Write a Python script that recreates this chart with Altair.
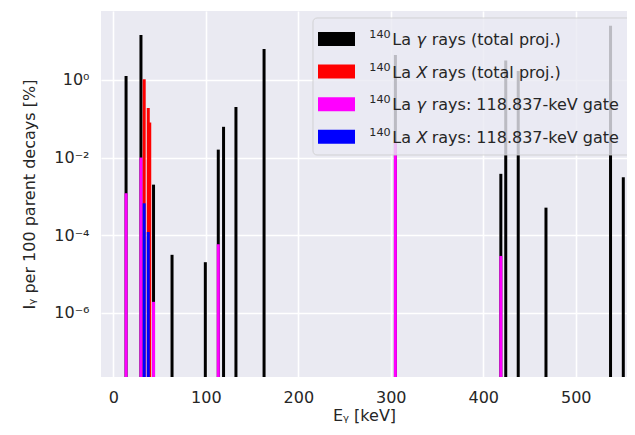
import altair as alt
import pandas as pd

# ---- data ----
gamma_E = [13.8, 29.9, 43.5, 63.5, 99.5, 113.5, 119.2, 132.6, 163.0, 305.0,
           419.0, 424.3, 437.8, 467.8, 537.6, 551.4]
gamma_I = [1.27, 14.5, 2.0e-3, 3.1e-5, 2.0e-5, 0.016, 0.062, 0.20, 6.3, 4.4,
           3.8e-3, 3.2, 1.7, 5.1e-4, 25.0, 3.1e-3]

xray_E = [33.4, 37.8, 39.4]
xray_I = [1.04, 0.19, 0.08]

gate_gamma_E = [13.8, 29.9, 43.5, 113.5, 305.0, 419.0]
gate_gamma_I = [1.2e-3, 1.0e-2, 1.9e-6, 5.8e-5, 0.025, 2.9e-5]

gate_xray_E = [33.4, 37.8]
gate_xray_I = [6.6e-4, 1.2e-4]

series_names = ["gamma_total", "xray_total", "gamma_gate", "xray_gate"]
series_colors = ["#000000", "#ff0000", "#ff00ff", "#0000ff"]
legend_symbol = ["γ", "X", "γ", "X"]
legend_rest = ["rays (total proj.)", "rays (total proj.)",
               "rays: 118.837-keV gate", "rays: 118.837-keV gate"]
x_ticks = [0, 100, 200, 300, 400, 500]
y_ticks = [1e-6, 1e-4, 1e-2, 1]

X_DOMAIN = [-13.3, 555.4]
Y_DOMAIN = [2.19e-8, 60.1]

frames = []
for name, E, I in zip(series_names,
                      [gamma_E, xray_E, gate_gamma_E, gate_xray_E],
                      [gamma_I, xray_I, gate_gamma_I, gate_xray_I]):
    frames.append(pd.DataFrame({"E": E, "I": I, "series": name}))
df = pd.concat(frames, ignore_index=True)

TXT = "#262626"
FONT = "DejaVu Sans"

bars = alt.Chart(df).mark_rule(strokeWidth=3, clip=True).encode(
    x=alt.X("E:Q",
            scale=alt.Scale(domain=X_DOMAIN, nice=False, zero=False),
            axis=alt.Axis(values=x_ticks, title="Eᵧ [keV]", labelPadding=12,
                          titlePadding=2, format="d")),
    y=alt.Y("I:Q",
            scale=alt.Scale(type="log", domain=Y_DOMAIN, nice=False),
            axis=alt.Axis(values=y_ticks, title="Iᵧ per 100 parent decays [%]",
                          labelPadding=12, titlePadding=16,
                          labelExpr="datum.value >= 0.5 ? '10⁰' : datum.value >= 0.005 ? '10⁻²' : datum.value >= 0.00005 ? '10⁻⁴' : '10⁻⁶'")),
    y2=alt.datum(Y_DOMAIN[0]),
    color=alt.Color("series:N",
                    scale=alt.Scale(domain=series_names, range=series_colors),
                    legend=None),
)

one = pd.DataFrame({"k": [0]})
layers = [bars]

# legend frame
layers.append(alt.Chart(one).mark_rect(
    fill="#EAEAF2", fillOpacity=0.8, stroke="#CCCCCC", strokeOpacity=0.8,
    strokeWidth=1, cornerRadius=4, clip=True).encode(
    x=alt.value(212), x2=alt.value(800), y=alt.value(7), y2=alt.value(144)))

ROW = 32.6
for i in range(4):
    base = 34 + ROW * i
    layers.append(alt.Chart(one).mark_rect(fill=series_colors[i], clip=True).encode(
        x=alt.value(217), x2=alt.value(254),
        y=alt.value(base - 13), y2=alt.value(base + 1)))
    layers.append(alt.Chart(one).mark_text(
        align="left", baseline="alphabetic", font=FONT, fontSize=11.2,
        color=TXT, text="140", clip=True).encode(
        x=alt.value(268.3), y=alt.value(base - 7)))
    layers.append(alt.Chart(one).mark_text(
        align="left", baseline="alphabetic", font=FONT, fontSize=16,
        color=TXT, text="La", clip=True).encode(
        x=alt.value(291.3), y=alt.value(base)))
    layers.append(alt.Chart(one).mark_text(
        align="left", baseline="alphabetic", font=FONT, fontSize=16,
        fontStyle="italic", color=TXT, text=legend_symbol[i], clip=True).encode(
        x=alt.value(315.5), y=alt.value(base)))
    layers.append(alt.Chart(one).mark_text(
        align="left", baseline="alphabetic", font=FONT, fontSize=16,
        color=TXT, text=legend_rest[i], clip=True).encode(
        x=alt.value(330.7), y=alt.value(base)))

chart = alt.layer(*layers).properties(
    width=526, height=366,
    autosize=alt.AutoSizeParams(type="none"),
    padding={"left": 93, "top": 3, "right": 0, "bottom": 50},
    background="white",
).configure_view(
    fill="#EAEAF2", strokeWidth=0
).configure_axis(
    domain=False, ticks=False, grid=True, gridColor="white", gridWidth=1.6,
    labelColor=TXT, labelFont=FONT, labelFontSize=16,
    titleColor=TXT, titleFont=FONT, titleFontSize=16, titleFontWeight="normal",
)

chart.save("out.html", embed_options={"renderer": "svg", "actions": False})
